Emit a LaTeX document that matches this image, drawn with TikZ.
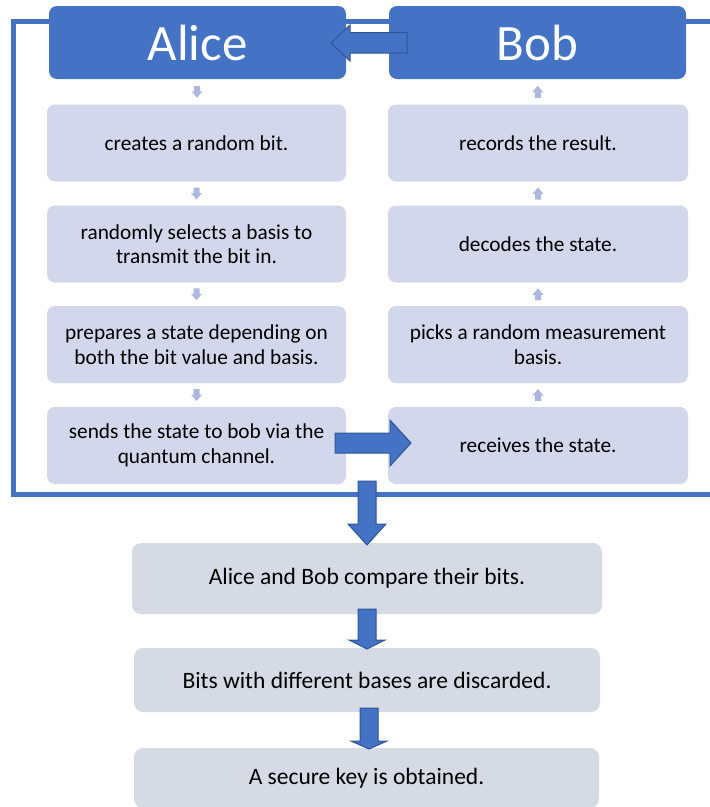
\documentclass[tikz,border=0pt]{standalone}
\usepackage{fontspec}
\setmainfont{Carlito}
\usetikzlibrary{calc}
\definecolor{hdr}{HTML}{4472C4}
\definecolor{lbox}{HTML}{D2D7EC}
\definecolor{gbox}{HTML}{D5DAE4}
\definecolor{sarr}{HTML}{ADB8E0}
\definecolor{aline}{HTML}{2F5597}
\tikzset{
  header/.style={fill=hdr, rounded corners=8pt, minimum width=297pt, minimum height=73pt,
    text=white, font=\fontsize{51}{60}\selectfont, inner sep=0pt},
  stepbox/.style={fill=lbox, rounded corners=8pt, minimum width=299pt, minimum height=77pt,
    align=center, font=\fontsize{21.3}{24.5}\selectfont, inner sep=0pt},
  resbox/.style={fill=gbox, rounded corners=9pt, align=center,
    font=\fontsize{23.5}{28}\selectfont, inner sep=0pt},
  blkarrow/.style={fill=hdr, draw=aline, line width=1pt, line join=miter},
  frameline/.style={draw=hdr, line width=4.5pt},
  sdown/.pic={\fill[sarr] (-3,-6) -- (3,-6) -- (3,-0.5) -- (5.5,-0.5) -- (0,6) -- (-5.5,-0.5) -- (-3,-0.5) -- cycle;},
  smallup/.pic={\fill[sarr] (-3,6) -- (3,6) -- (3,0.5) -- (5.5,0.5) -- (0,-6) -- (-5.5,0.5) -- (-3,0.5) -- cycle;},
}
\begin{document}
\begin{tikzpicture}[x=1pt,y=-1pt]
\useasboundingbox (0,0) rectangle (710,807);
\clip (0,0) rectangle (710,807);
% frame
\draw[frameline] (715,21.5) -- (13.5,21.5) -- (13.5,494.5) -- (715,494.5);
% headers
\node[header] (alice) at (197.5,42.5) {Alice};
\node[header] (bob) at (537.5,42.5) {Bob};
% Alice steps
\node[stepbox] (a1) at (196.5,143) {creates a random bit.};
\node[stepbox] (a2) at (196.5,244) {randomly selects a basis to\\transmit the bit in.};
\node[stepbox] (a3) at (196.5,344.5) {prepares a state depending on\\both the bit value and basis.};
\node[stepbox] (a4) at (196.5,445.5) {sends the state to bob via the\\quantum channel.};
% Bob steps
\node[stepbox, minimum width=300pt] (b1) at (538,143) {records the result.};
\node[stepbox, minimum width=300pt] (b2) at (538,244) {decodes the state.};
\node[stepbox, minimum width=300pt] (b3) at (538,344.5) {picks a random measurement\\basis.};
\node[stepbox, minimum width=300pt] (b4) at (538,445.5) {receives the state.};
% small arrows
\pic at ($(alice.south)!0.5!(a1.north)$) {sdown};
\pic at ($(a1.south)!0.5!(a2.north)$) {sdown};
\pic at ($(a2.south)!0.5!(a3.north)$) {sdown};
\pic at ($(a3.south)!0.5!(a4.north)$) {sdown};
\pic at ($(bob.south)!0.5!(b1.north)$) {smallup};
\pic at ($(b1.south)!0.5!(b2.north)$) {smallup};
\pic at ($(b2.south)!0.5!(b3.north)$) {smallup};
\pic at ($(b3.south)!0.5!(b4.north)$) {smallup};
% result boxes
\node[resbox, minimum width=470pt, minimum height=71pt] (ra) at (367,578.5) {\raisebox{3pt}{Alice and Bob compare their bits.}};
\node[resbox, minimum width=466pt, minimum height=64pt] (rb) at (367,680) {Bits with different bases are discarded.};
\node[resbox, minimum width=465pt, minimum height=60pt] (rc) at (366.5,778) {A secure key is obtained.};
% block arrows
\draw[blkarrow] (407,32.5) -- (350,32.5) -- (350,25) -- (331,43) -- (350,61) -- (350,53) -- (407,53) -- cycle;
\draw[blkarrow] (335,433) -- (390,433) -- (390,420) -- (411,443) -- (390,466) -- (390,453) -- (335,453) -- cycle;
\draw[blkarrow] (358,481) -- (376,481) -- (376,524) -- (386,524) -- (367,545) -- (348,524) -- (358,524) -- cycle;
\draw[blkarrow] (358,609) -- (376,609) -- (376,640) -- (385,640) -- (367,649) -- (349,640) -- (358,640) -- cycle;
\draw[blkarrow] (360,708) -- (378,708) -- (378,741) -- (387,741) -- (369,749) -- (351,741) -- (360,741) -- cycle;
\end{tikzpicture}
\end{document}
